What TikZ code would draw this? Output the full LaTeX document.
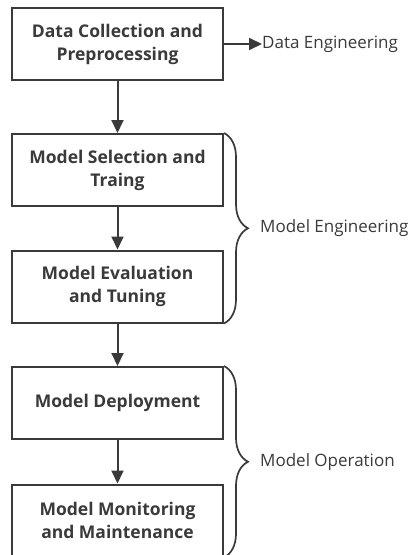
\documentclass[tikz,border=0pt]{standalone}
\usepackage{fontspec}
\setmainfont{Open Sans}
\usepackage{tikz}
\usetikzlibrary{arrows.meta, positioning, decorations.pathreplacing}
\definecolor{inkgray}{RGB}{58, 58, 58}

\begin{document}
\begin{tikzpicture}[x=1pt, y=-1pt,
    stage/.style={draw=inkgray, line width=2pt, minimum width=211pt,
      minimum height=72pt, align=center, text=inkgray,
      font=\fontsize{17.5}{23}\selectfont\bfseries},
    flow/.style={draw=inkgray, line width=2pt,
      -{Triangle[length=13pt, width=12pt]}},
    brace/.style={draw=inkgray, line width=1.7pt,
      decorate, decoration={brace, amplitude=24pt, aspect=0.5}},
    tag/.style={text=inkgray, font=\fontsize{17}{20}\selectfont}]

  \useasboundingbox (0, 0) rectangle (413, 555);

  % ── Pipeline stages ───────────────────────────────────────────────────────
  \node[stage] (collect) at (117.5, 44) {Data Collection and\\Preprocessing};
  \node[stage] (select)  at (117.5, 170) {Model Selection and\\Traing};
  \node[stage] (tune)    at (117.5, 286.5) {Model Evaluation\\and Tuning};
  \node[stage] (deploy)  at (117.5, 403) {Model Deployment};
  \node[stage] (monitor) at (117.5, 520.5) {Model Monitoring\\and Maintenance};

  % ── Arrows between stages ─────────────────────────────────────────────────
  \draw[flow] (collect) -- (select);
  \draw[flow] (select)  -- (tune);
  \draw[flow] (tune)    -- (deploy);
  \draw[flow] (deploy)  -- (monitor);

  % ── Data engineering label ────────────────────────────────────────────────
  \node[tag, anchor=west, inner sep=0pt] (dataeng) at (262, 44) {Data Engineering};
  \draw[flow] (collect) -- (dataeng);

  % ── Braces for the two groups ─────────────────────────────────────────────
  \draw[brace] (select.north east) -- (tune.south east)
    node[tag, midway, anchor=west, xshift=32pt] (modeleng) {Model Engineering};
  \draw[brace] (deploy.north east) -- (monitor.south east)
    node[tag, midway, anchor=west, xshift=32pt] (modelops) {Model Operation};

\end{tikzpicture}
\end{document}
